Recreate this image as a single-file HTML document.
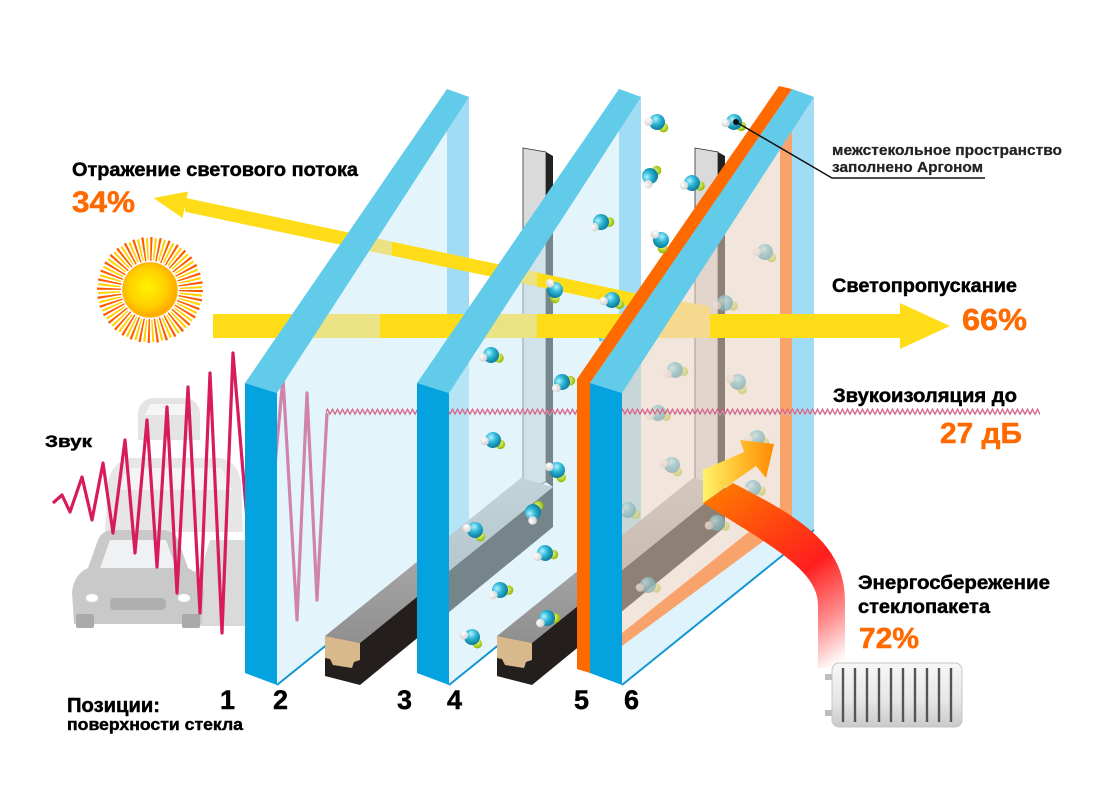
<!DOCTYPE html>
<html><head><meta charset="utf-8">
<style>
html,body{margin:0;padding:0;background:#fff}
svg{display:block}
text{font-family:"Liberation Sans",Arial,sans-serif;font-weight:bold}
</style></head>
<body>
<svg width="1100" height="800" viewBox="0 0 1100 800" xmlns="http://www.w3.org/2000/svg">
<defs>
  <radialGradient id="gc" cx="0.35" cy="0.35" r="0.7">
    <stop offset="0" stop-color="#b5f3ff"/><stop offset="0.45" stop-color="#2fb8d8"/><stop offset="1" stop-color="#0b7797"/>
  </radialGradient>
  <radialGradient id="gy" cx="0.35" cy="0.35" r="0.7">
    <stop offset="0" stop-color="#f2ff8a"/><stop offset="1" stop-color="#8fb800"/>
  </radialGradient>
  <radialGradient id="gw" cx="0.35" cy="0.35" r="0.7">
    <stop offset="0" stop-color="#ffffff"/><stop offset="1" stop-color="#cfcfcf"/>
  </radialGradient>
  <radialGradient id="sg" cx="0.45" cy="0.45" r="0.6">
    <stop offset="0" stop-color="#fff200"/><stop offset="0.6" stop-color="#ffcf00"/><stop offset="1" stop-color="#ff9c00"/>
  </radialGradient>
  <linearGradient id="hg" gradientUnits="userSpaceOnUse" x1="712" y1="490" x2="832" y2="668">
    <stop offset="0" stop-color="#ff7a00"/><stop offset="0.35" stop-color="#ff3d12"/><stop offset="0.55" stop-color="#ff1e1e"/><stop offset="0.8" stop-color="#ff8d8d"/><stop offset="1" stop-color="#ffffff"/>
  </linearGradient>
  <linearGradient id="ag" x1="0" y1="0" x2="1" y2="0">
    <stop offset="0" stop-color="#fff46a"/><stop offset="0.5" stop-color="#ffc030"/><stop offset="1" stop-color="#ff8a00"/>
  </linearGradient>
  <linearGradient id="spt" x1="0" y1="0" x2="0" y2="1">
    <stop offset="0" stop-color="#bdbdbd"/><stop offset="1" stop-color="#8f8f8f"/>
  </linearGradient>
  <linearGradient id="rad" x1="0" y1="0" x2="0" y2="1">
    <stop offset="0" stop-color="#f7f7f7"/><stop offset="0.6" stop-color="#e6e6e6"/><stop offset="1" stop-color="#c9c9c9"/>
  </linearGradient>
  <pattern id="sq" width="5" height="9" patternUnits="userSpaceOnUse" x="0" y="408">
    <path d="M0 6.5 L2.5 1.5 L5 6.5" fill="none" stroke="#e0467a" stroke-width="1.4"/>
    <path d="M0 7.5 L2.5 2.5 L5 7.5" fill="none" stroke="#c9c9c9" stroke-width="0.6"/>
  </pattern>
  <clipPath id="bc"><rect x="0" y="150" width="1100" height="200"/></clipPath>
  <g id="m">
    <circle cx="8" cy="3" r="4.8" fill="url(#gy)"/>
    <circle cx="0" cy="0" r="8" fill="url(#gc)"/>
    <circle cx="-8" cy="2.5" r="4.3" fill="url(#gw)"/>
  </g>
</defs>

<rect width="1100" height="800" fill="#fff"/>

<!-- cars (faded) -->
<g opacity="0.55">
  <path d="M138 440 L138 412 Q140 400 152 398 L186 398 Q198 400 200 412 L200 440 Z" fill="#cfcfcf"/>
  <path d="M145 415 L150 404 L188 404 L193 415 Z" fill="#eeeeee"/>
  <path d="M105 532 L108 482 Q112 462 130 458 L220 458 Q238 462 241 482 L243 532 Z" fill="#d3d3d3"/>
  <path d="M118 490 L128 468 L222 468 L232 490 Z" fill="#ececec"/>
  <path d="M186 626 L186 590 Q190 572 202 566 L210 540 L245 540 L245 626 Z" fill="#bcbcbc"/>
  <path d="M74 624 L72 592 Q74 574 88 568 L98 540 Q102 530 114 530 L162 530 Q174 530 178 540 L188 568 Q202 574 204 592 L202 624 Z" fill="#9d9d9d"/>
  <path d="M100 568 L110 540 L166 540 L176 568 Z" fill="#e4e6e8"/>
  <rect x="110" y="598" width="56" height="12" rx="4" fill="#6f6f6f"/>
  <ellipse cx="92" cy="598" rx="6" ry="4" fill="#fff"/>
  <ellipse cx="184" cy="598" rx="6" ry="4" fill="#fff"/>
  <rect x="76" y="614" width="18" height="14" rx="2" fill="#666"/>
  <rect x="182" y="614" width="18" height="14" rx="2" fill="#666"/>
</g>

<!-- sun -->
<circle cx="150" cy="290" r="41" fill="none" stroke="#ff5a00" stroke-width="24" stroke-dasharray="1.8 5.355"/>
<circle cx="150" cy="290" r="41" fill="none" stroke="#ffd400" stroke-width="22" stroke-dasharray="1.8 5.355" stroke-dashoffset="3.6"/>
<circle cx="150" cy="290" r="27" fill="url(#sg)" stroke="#ffb400" stroke-width="1.5"/>

<!-- sound wave -->
<polyline points="53,503 62,495 70,512 82,477 92,520 103,463 113,533 125,440 135,553 147,420 157,567 167,407 177,593 188,387 200,613 210,373 222,633 233,353 258,650 283,378 297,620 307,393 317,600 327,413" fill="none" stroke="#d81b5e" stroke-width="3.2" stroke-linejoin="round"/>

<!-- PANE 1 -->
<polygon points="447,89 469,97 469,530 447,548" fill="#a0ddf4"/>
<polygon points="277,393 447,131 447,548 277,685" fill="#c8ebf8" fill-opacity="0.5"/>
<polygon points="447,89 469,97 277,393 245,383" fill="#63cbea"/>
<polygon points="245,383 277,393 277,685 245,673" fill="#05a2e0"/>
<line x1="277" y1="685" x2="469" y2="530" stroke="#1496d3" stroke-width="2"/>

<!-- SPACER 1 -->
<polygon points="523,148 546,152 546,482 523,490" fill="#dadada" stroke="#333" stroke-width="0.8"/>
<polygon points="546,152 553,156 553,487 546,482" fill="#222"/>
<polygon points="325,636 521,478 553,487 360,643" fill="url(#spt)"/>
<polygon points="360,643 553,487 553,527 360,685" fill="#241f1c"/>
<polygon points="325,636 360,643 360,685 325,676" fill="#231f1c"/>
<polygon points="325,636 360,643 360,660 354,662 352,668 333,665 330,659 325,658" fill="#d8b98c"/>

<!-- PANE 2 -->
<polygon points="619,89 641,97 641,530 619,548" fill="#a0ddf4"/>
<polygon points="449,393 619,131 619,548 449,685" fill="#c8ebf8" fill-opacity="0.5"/>
<polygon points="619,89 641,97 449,393 417,383" fill="#63cbea"/>
<polygon points="417,383 449,393 449,685 417,673" fill="#05a2e0"/>
<line x1="449" y1="685" x2="641" y2="530" stroke="#1496d3" stroke-width="2"/>

<!-- SPACER 2 -->
<polygon points="695,148 718,152 718,482 695,490" fill="#dadada" stroke="#333" stroke-width="0.8"/>
<polygon points="718,152 725,156 725,487 718,482" fill="#222"/>
<polygon points="497,636 693,478 725,487 532,643" fill="url(#spt)"/>
<polygon points="532,643 725,487 725,527 532,685" fill="#241f1c"/>
<polygon points="497,636 532,643 532,685 497,676" fill="#231f1c"/>
<polygon points="497,636 532,643 532,660 526,662 524,668 505,665 502,659 497,658" fill="#d8b98c"/>

<!-- molecules behind pane 3 (faded) -->
<g opacity="0.75">
  <use href="#m" transform="translate(765,252) rotate(20)"/>
  <use href="#m" transform="translate(725,303) rotate(0)"/>
  <use href="#m" transform="translate(675,370) rotate(-10)"/>
  <use href="#m" transform="translate(738,382) rotate(40)"/>
  <use href="#m" transform="translate(658,413) rotate(0)"/>
  <use href="#m" transform="translate(757,438) rotate(10)"/>
  <use href="#m" transform="translate(672,465) rotate(30)"/>
  <use href="#m" transform="translate(753,488) rotate(0)"/>
  <use href="#m" transform="translate(717,523) rotate(0)"/>
  <use href="#m" transform="translate(628,510) rotate(10)"/>
  <use href="#m" transform="translate(648,585) rotate(0)"/>
</g>
<use href="#m" transform="translate(607,338) rotate(-40)"/>

<!-- PANE 3 -->
<polygon points="792,89 814,97 814,530 792,548" fill="#a0ddf4"/>
<polygon points="622,646 792,520 792,548 622,685" fill="#c8ebf8" fill-opacity="0.6"/>
<polygon points="622,393 780,149 780,507 622,633" fill="#e8cfbf" fill-opacity="0.55"/>
<polygon points="780,149 792,131 792,520 622,646 622,633 780,507" fill="#f9a36c"/>
<polygon points="792,89 814,97 622,393 590,383" fill="#63cbea"/>
<polygon points="779,86 792,89 590,383 590,673 577,669 577,379" fill="#ff6a00"/>
<polygon points="590,383 622,393 622,685 590,673" fill="#05a2e0"/>
<line x1="622" y1="685" x2="814" y2="530" stroke="#1496d3" stroke-width="2"/>

<!-- BEAMS -->
<rect x="213" y="314" width="690" height="24" fill="#fedd18"/>
<polygon points="900,303 950,326 900,349" fill="#fedd18"/>
<rect x="310" y="314" width="70" height="24" fill="#ebe283"/>
<rect x="482" y="314" width="55" height="24" fill="#ebe283"/>
<polygon points="655,297 710,306 710,338 655,338" fill="#f4d98e"/>

<polygon points="185,197.8 640,294.3 640,308.3 185,211.8" fill="#fedd18"/>
<polygon points="153.5,198 188,191.5 182.5,218" fill="#fedd18"/>
<polygon points="370,237 392,241.7 392,255.7 370,251" fill="#ebe283"/>
<polygon points="518,268.4 537,272.4 537,286.4 518,282.4" fill="#ebe283"/>

<!-- bands redrawn over beams -->
<g clip-path="url(#bc)">
  <polygon points="447,89 469,97 277,393 245,383" fill="#63cbea"/>
  <polygon points="619,89 641,97 449,393 417,383" fill="#63cbea"/>
  <polygon points="792,89 814,97 622,393 590,383" fill="#63cbea"/>
  <polygon points="779,86 792,89 590,383 590,673 577,669 577,379" fill="#ff6a00"/>
</g>

<!-- sound squiggle -->
<rect x="326" y="408" width="91" height="9" fill="url(#sq)"/>
<rect x="449" y="408" width="128" height="9" fill="url(#sq)"/>
<rect x="622" y="408" width="418" height="9" fill="url(#sq)"/>

<!-- bright molecules -->
<use href="#m" transform="translate(657,122) rotate(20)"/>
<use href="#m" transform="translate(734,122) rotate(10)"/>
<use href="#m" transform="translate(650,176) rotate(-60)"/>
<use href="#m" transform="translate(692,183) rotate(0)"/>
<use href="#m" transform="translate(601,222) rotate(-20)"/>
<use href="#m" transform="translate(661,240) rotate(60)"/>
<use href="#m" transform="translate(555,290) rotate(70)"/>
<use href="#m" transform="translate(612,300) rotate(10)"/>
<use href="#m" transform="translate(491,355) rotate(0)"/>
<use href="#m" transform="translate(562,382) rotate(-30)"/>
<use href="#m" transform="translate(493,440) rotate(10)"/>
<use href="#m" transform="translate(557,470) rotate(40)"/>
<use href="#m" transform="translate(533,512) rotate(-70)"/>
<use href="#m" transform="translate(475,530) rotate(30)"/>
<use href="#m" transform="translate(545,553) rotate(-10)"/>
<use href="#m" transform="translate(500,590) rotate(-20)"/>
<use href="#m" transform="translate(547,618) rotate(-20)"/>
<use href="#m" transform="translate(472,637) rotate(30)"/>

<!-- pointer -->
<polyline points="736,122 832,178 985,178" fill="none" stroke="#111" stroke-width="1.5"/>
<circle cx="736" cy="122" r="3" fill="#111"/>

<!-- heat arrow -->
<path d="M733 483 C790 513, 845 540, 845 600 L845 668 L818 668 L818 605 C818 570, 770 545, 703 503 Z" fill="url(#hg)"/>
<polygon points="703,470 744,452 740,440 774,444 766,478 756,466 703,503" fill="url(#ag)"/>

<!-- radiator -->
<rect x="825" y="674" width="9" height="6" fill="#bdbdbd"/>
<rect x="825" y="710" width="9" height="6" fill="#bdbdbd"/>
<rect x="832" y="663" width="130" height="64" rx="7" fill="url(#rad)" stroke="#c4c4c4" stroke-width="1"/>
<g stroke="#555" stroke-width="2.4">
  <line x1="843" y1="668" x2="843" y2="722"/>
  <line x1="855" y1="668" x2="855" y2="722"/>
  <line x1="867" y1="668" x2="867" y2="722"/>
  <line x1="879" y1="668" x2="879" y2="722"/>
  <line x1="891" y1="668" x2="891" y2="722"/>
  <line x1="903" y1="668" x2="903" y2="722"/>
  <line x1="915" y1="668" x2="915" y2="722"/>
  <line x1="927" y1="668" x2="927" y2="722"/>
  <line x1="939" y1="668" x2="939" y2="722"/>
  <line x1="951" y1="668" x2="951" y2="722"/>
</g>

<!-- TEXT -->
<g fill="#000" stroke="#000" stroke-width="0.45">
  <text x="72" y="176" font-size="19" textLength="286" lengthAdjust="spacingAndGlyphs">Отражение светового потока</text>
  <text x="832" y="292" font-size="19" textLength="185" lengthAdjust="spacingAndGlyphs">Светопропускание</text>
  <text x="833" y="402" font-size="19" textLength="184" lengthAdjust="spacingAndGlyphs">Звукоизоляция до</text>
  <text x="45" y="447" font-size="17" textLength="47" lengthAdjust="spacingAndGlyphs">Звук</text>
  <text x="67" y="712" font-size="20" textLength="93" lengthAdjust="spacingAndGlyphs">Позиции:</text>
  <text x="67" y="730" font-size="17" textLength="176" lengthAdjust="spacingAndGlyphs">поверхности стекла</text>
  <text x="858" y="589" font-size="19" textLength="192" lengthAdjust="spacingAndGlyphs">Энергосбережение</text>
  <text x="858" y="613" font-size="19" textLength="132" lengthAdjust="spacingAndGlyphs">стеклопакета</text>
  <g font-size="27">
    <text x="220" y="709">1</text>
    <text x="273" y="709">2</text>
    <text x="397" y="709">3</text>
    <text x="447" y="709">4</text>
    <text x="574" y="709">5</text>
    <text x="624" y="709">6</text>
  </g>
</g>
<g fill="#222" stroke="#222" stroke-width="0.25">
  <text x="832" y="155" font-size="14.5" textLength="230" lengthAdjust="spacingAndGlyphs">межстекольное пространство</text>
  <text x="832" y="172" font-size="14.5" textLength="151" lengthAdjust="spacingAndGlyphs">заполнено Аргоном</text>
</g>
<g fill="#ff6a00" stroke="#ff6a00" stroke-width="0.5">
  <text x="72" y="212" font-size="30" textLength="63" lengthAdjust="spacingAndGlyphs">34%</text>
  <text x="962" y="330" font-size="31" textLength="65" lengthAdjust="spacingAndGlyphs">66%</text>
  <text x="940" y="443" font-size="29" textLength="82" lengthAdjust="spacingAndGlyphs">27 дБ</text>
  <text x="859" y="648" font-size="29" textLength="60" lengthAdjust="spacingAndGlyphs">72%</text>
</g>
</svg>
</body></html>
